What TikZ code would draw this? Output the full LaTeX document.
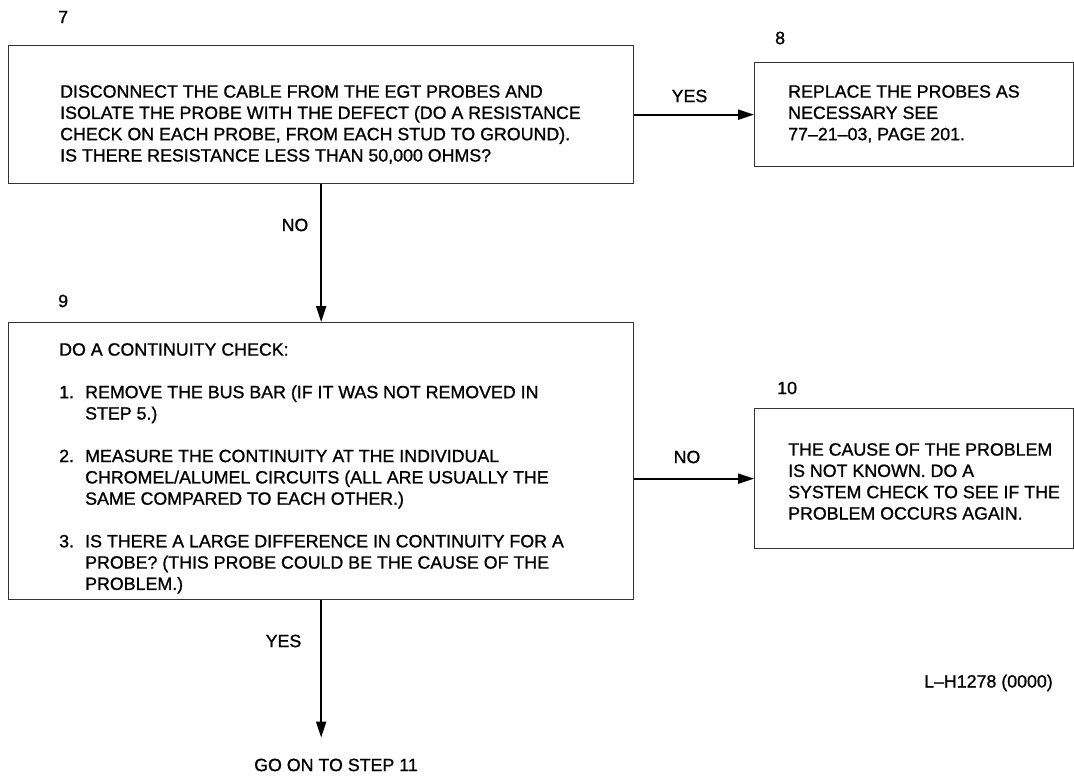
\documentclass[tikz,border=0pt]{standalone}
\usepackage{fontspec}
\setmainfont{Liberation Sans}[FakeBold=1]
\usetikzlibrary{arrows.meta}

\begin{document}
\begin{tikzpicture}[x=1pt,y=-1pt,
    stepbox/.style={draw=black!80,line width=1.3pt,inner sep=0pt,anchor=north west},
    steptext/.style={anchor=north west,inner sep=0pt,align=left,font=\fontsize{17.8}{21.3}\selectfont},
    lbl/.style={inner sep=0pt,font=\fontsize{17.8}{21.3}\selectfont},
    flow/.style={line width=2pt,-{Triangle[length=16pt,width=10pt]}}]

  \path[use as bounding box] (0,0) rectangle (1074,778);

  % the four step boxes
  \node[stepbox,minimum width=625pt,minimum height=138pt] (s7) at (8,45) {};
  \node[stepbox,minimum width=319pt,minimum height=104pt] (s8) at (754,62) {};
  \node[stepbox,minimum width=625pt,minimum height=277pt] (s9) at (8,322) {};
  \node[stepbox,minimum width=319pt,minimum height=140pt] (s10) at (754,408) {};

  % step numbers
  \node[lbl,anchor=west] (n7) at (58,17) {7};
  \node[lbl,anchor=west] (n8) at (775,38) {8};
  \node[lbl,anchor=west] (n9) at (58,301) {9};
  \node[lbl,anchor=west] (n10) at (777,388) {10};

  % text inside the boxes
  \node[steptext] (t7) at (60,85) {DISCONNECT THE CABLE FROM THE EGT PROBES AND\\
    ISOLATE THE PROBE WITH THE DEFECT (DO A RESISTANCE\\
    CHECK ON EACH PROBE, FROM EACH STUD TO GROUND).\\
    IS THERE RESISTANCE LESS THAN 50,000 OHMS?};
  \node[steptext] (t8) at (788,85) {REPLACE THE PROBES AS\\
    NECESSARY SEE\\
    77--21--03, PAGE 201.};
  \node[steptext] (t9) at (59,343) {DO A CONTINUITY CHECK:\\[21.3pt]
    \makebox[26pt][l]{1.}REMOVE THE BUS BAR (IF IT WAS NOT REMOVED IN\\
    \hspace*{26pt}STEP 5.)\\[21.3pt]
    \makebox[26pt][l]{2.}MEASURE THE CONTINUITY AT THE INDIVIDUAL\\
    \hspace*{26pt}CHROMEL/ALUMEL CIRCUITS (ALL ARE USUALLY THE\\
    \hspace*{26pt}SAME COMPARED TO EACH OTHER.)\\[21.3pt]
    \makebox[26pt][l]{3.}IS THERE A LARGE DIFFERENCE IN CONTINUITY FOR A\\
    \hspace*{26pt}PROBE? (THIS PROBE COULD BE THE CAUSE OF THE\\
    \hspace*{26pt}PROBLEM.)};
  \node[steptext] (t10) at (788,443) {THE CAUSE OF THE PROBLEM\\
    IS NOT KNOWN. DO A\\
    SYSTEM CHECK TO SEE IF THE\\
    PROBLEM OCCURS AGAIN.};

  \node[lbl] (go) at (336,765) {GO ON TO STEP 11};
  \node[lbl,anchor=base east] (figid) at (1053,687.5) {L--H1278 (0000)};

  % yes/no connectors
  \draw[flow] (s7.east) -- (s8.west);
  \draw[flow] (s7.south) -- (s9.north);
  \draw[flow] (s9.east |- s10.west) -- (s10.west);
  \draw[flow,shorten >=21pt] (s9.south) -- (s9.south |- go.north);

  \node[lbl] (yes1) at (689.5,96) {YES};
  \node[lbl] (no1) at (295,225) {NO};
  \node[lbl] (no2) at (687,457) {NO};
  \node[lbl] (yes2) at (283.5,641) {YES};
\end{tikzpicture}
\end{document}
